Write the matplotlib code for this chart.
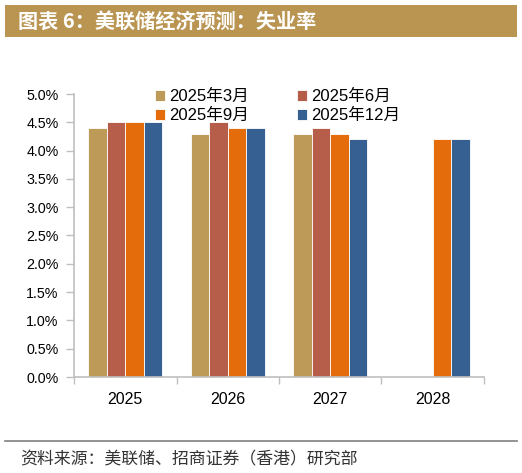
import numpy as np
import matplotlib
matplotlib.use('Agg')
import matplotlib.pyplot as plt
from matplotlib.patches import Rectangle
from matplotlib.ticker import FuncFormatter, FixedLocator

plt.rcParams['font.family'] = ['Liberation Sans', 'Noto Sans CJK SC', 'DejaVu Sans']

years = ['2025', '2026', '2027', '2028']
series_names = ['2025年3月', '2025年6月', '2025年9月', '2025年12月']
mar_2025 = [4.4, 4.3, 4.3, np.nan]
jun_2025 = [4.5, 4.5, 4.4, np.nan]
sep_2025 = [4.5, 4.4, 4.3, 4.2]
dec_2025 = [4.5, 4.4, 4.2, 4.2]
colors = ['#BD9A58', '#B65E4A', '#E46C0A', '#376092']

title = '图表 6：美联储经济预测：失业率'
source = '资料来源：美联储、招商证券（香港）研究部'

W, H = 522, 473
fig = plt.figure(figsize=(W / 100, H / 100), dpi=100)

# title banner
fig.patches.append(Rectangle((5 / W, 1 - 37 / H), 512 / W, 32 / H,
                             transform=fig.transFigure, facecolor='#BA9552',
                             edgecolor='none'))
fig.text(18 / W, 1 - 21 / H, title, color='white', fontsize=14.5,
         fontweight='bold', va='center', ha='left',
         family=['Noto Sans CJK SC', 'DejaVu Sans'])

ax = fig.add_axes([74 / W, 1 - 377 / H, 410 / W, 283 / H])

x = np.arange(len(years))
width = 0.18
all_series = [mar_2025, jun_2025, sep_2025, dec_2025]
bars = []
for i, vals in enumerate(all_series):
    b = ax.bar(x + (i - 1.5) * width, vals, width, color=colors[i],
               edgecolor='white', linewidth=0.6, label=series_names[i])
    bars.append(b)

ax.set_xlim(-0.5, len(years) - 0.5)
ax.set_ylim(0, 5.0)
ax.set_yticks(np.arange(0, 5.01, 0.5))
ax.yaxis.set_major_formatter(FuncFormatter(lambda v, p: '%.1f%%' % v))
ax.set_xticks(x)
ax.set_xticklabels(years, fontsize=11.5)
ax.xaxis.set_minor_locator(FixedLocator(np.arange(-0.5, len(years), 1.0)))
ax.tick_params(axis='x', which='major', length=0, pad=11)
ax.tick_params(axis='x', which='minor', length=5, color='#BFBFBF', width=1)
ax.tick_params(axis='y', length=6, color='#BFBFBF', width=1, labelsize=10.3, pad=5)

for s in ['top', 'right']:
    ax.spines[s].set_visible(False)
for s in ['left', 'bottom']:
    ax.spines[s].set_color('#BFBFBF')
    ax.spines[s].set_linewidth(1.2)

# legend is filled row by row in the reference
order = [0, 2, 1, 3]
leg = ax.legend([bars[i] for i in order], [series_names[i] for i in order],
                loc='upper left', bbox_to_anchor=(0.16, 1.07), ncol=2,
                frameon=False, fontsize=12, handlelength=0.6, handleheight=0.6,
                handletextpad=0.25, columnspacing=2.9, labelspacing=0.22)

# bottom separator and source
fig.add_artist(plt.Line2D([5 / W, 517 / W], [1 - 441 / H, 1 - 441 / H],
                          color='#808080', linewidth=1.2,
                          transform=fig.transFigure))
fig.text(20 / W, 1 - 459 / H, source, fontsize=12.2, color='#333333',
         va='center', ha='left', style='italic',
         family=['Noto Sans CJK SC', 'DejaVu Sans'])

fig.savefig('out.png', dpi=100)
